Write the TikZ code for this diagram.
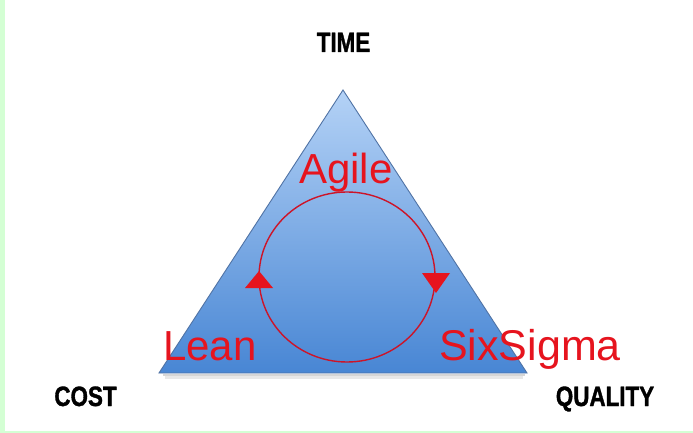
\documentclass[tikz,border=0pt]{standalone}
\usepackage{fontspec}
\setmainfont{Liberation Sans}
\newfontfamily\headfont[FakeStretch=0.8,FakeBold=1.2]{Liberation Sans}
\definecolor{mint}{RGB}{212,255,212}
\definecolor{triTop}{RGB}{180,210,246}
\definecolor{triBot}{RGB}{72,134,212}
\definecolor{triEdge}{RGB}{80,115,165}
\definecolor{redtext}{RGB}{230,20,30}
\definecolor{redline}{RGB}{205,20,40}
\begin{document}
\begin{tikzpicture}[x=1pt,y=-1pt,
  lbl/.style={inner sep=0pt, anchor=base, font=\headfont\bfseries\fontsize{28}{28}\selectfont},
  meth/.style={inner sep=0pt, anchor=base, text=redtext, font=\fontsize{42}{42}\selectfont},
  cycleline/.style={draw=redline, line width=1.4pt},
  headtip/.style={fill=redtext}]
\useasboundingbox (0,0) rectangle (693,433);
\fill[white] (0,0) rectangle (693,433);
\fill[mint] (0,0) rectangle (5,433);
\fill[mint] (0,430.5) rectangle (693,433);
% triangle
\coordinate (T) at (343,90);
\coordinate (L) at (159,373);
\coordinate (R) at (527,373);
\draw[black!35, line width=2pt, opacity=0.45] ([xshift=4,yshift=-2]L) -- ([xshift=-2,yshift=-2]R);
\draw[black!25, line width=3pt, opacity=0.35] ([xshift=6,yshift=-4.5]L) -- ([xshift=-4,yshift=-4.5]R);
\shadedraw[top color=triTop, bottom color=triBot, draw=triEdge, line width=0.9pt] (T) -- (L) -- (R) -- cycle;
% cycle
\draw[cycleline] (347,277) ellipse [x radius=88, y radius=85];
\fill[headtip] (259,271) -- (245,288) -- (273,288) -- cycle;
\fill[headtip] (436,293) -- (422,273) -- (450,273) -- cycle;
% labels
\node[lbl] (time) at (343.5,52) {TIME};
\node[lbl] (cost) at (85.5,406) {COST};
\node[lbl] (quality) at (605,406) {QUALITY};
\node[meth] (agile) at (346,183) {Agile};
\node[meth] (lean) at (210,360) {Lean};
\node[meth, font=\fontsize{43}{43}\selectfont] (six) at (530,360) {SixSigma};
\end{tikzpicture}
\end{document}
